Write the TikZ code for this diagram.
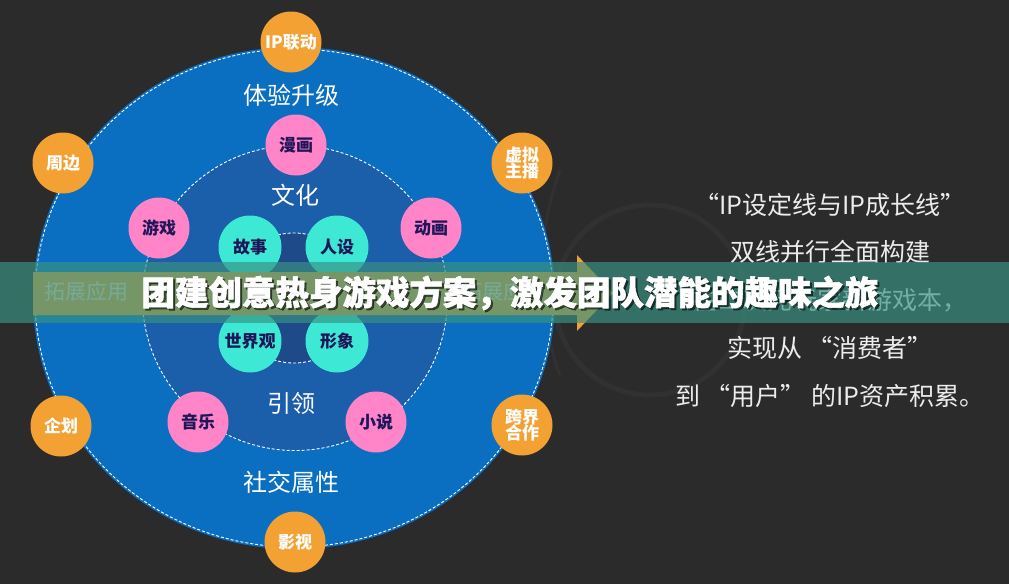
\documentclass[tikz,border=0pt]{standalone}
\usepackage{fontspec}
\newfontfamily\cjk{Noto Sans CJK SC}
\newfontfamily\cjkt[BoldFeatures={FakeBold=1.6}]{Noto Sans CJK SC}
\usetikzlibrary{shapes.geometric}
\definecolor{bg}{RGB}{43,43,43}
\definecolor{outerblue}{RGB}{10,110,193}
\definecolor{midblue}{RGB}{27,94,170}
\definecolor{innerblue}{RGB}{30,74,138}
\definecolor{orangeC}{RGB}{244,161,52}
\definecolor{pinkC}{RGB}{255,133,200}
\definecolor{tealC}{RGB}{61,232,213}
\definecolor{navytext}{RGB}{30,22,88}
\definecolor{bannerC}{RGB}{57,146,131}
\definecolor{rtext}{RGB}{236,236,236}
\definecolor{faint}{RGB}{49,49,49}
\definecolor{sidetext}{RGB}{240,222,196}
\tikzset{
  ring/.style={draw=white, line width=0.9pt, dash pattern=on 3pt off 2pt},
  bubble/.style={circle, minimum size=61pt, inner sep=0pt, align=center,
    font=\cjk\bfseries\fontsize{17}{19}\selectfont},
  onode/.style={bubble, fill=orangeC, text=white},
  pnode/.style={bubble, fill=pinkC, text=navytext},
  tnode/.style={bubble, fill=tealC, text=navytext, minimum size=63pt},
  lbl/.style={text=white, font=\cjk\fontsize{24}{26}\selectfont, inner sep=0pt},
  side/.style={text=sidetext, font=\cjk\fontsize{21}{23}\selectfont, inner sep=0pt},
  titlefont/.style={font=\cjkt\bfseries\fontsize{33.5}{36}\selectfont, inner sep=0pt},
}
\begin{document}
\begin{tikzpicture}[x=1pt,y=-1pt]
\useasboundingbox (0,0) rectangle (1009,584);
\fill[bg] (0,0) rectangle (1009,584);
% faint decorations on the right
\draw[faint, line width=5pt] (650,300) circle [radius=95];
\draw[faint, line width=3pt] (560,170) arc[start angle=200, end angle=160, radius=300];
% rings
\fill[outerblue] (294,298) ellipse [x radius=261, y radius=251];
\draw[ring] (294,298) ellipse [x radius=259, y radius=249];
\fill[midblue] (295,298) circle [radius=152.5];
\draw[ring] (295,298) circle [radius=152.5];
\fill[innerblue] (294,298) circle [radius=65];
\draw[ring] (294,298) circle [radius=65];
% ring labels
\node[lbl] (l1) at (291,95) {体验升级};
\node[lbl] (l2) at (295,195) {文化};
\node[lbl] (l3) at (291,403) {引领};
\node[lbl] (l4) at (291,482) {社交属性};
% orange nodes
\node[onode] (ip) at (291,42) {IP联动};
\node[onode] (zb) at (63,163) {周边};
\node[onode] (xn) at (522,163) {虚拟\\[-3pt]主播};
\node[onode] (qh) at (61,426) {企划};
\node[onode] (kj) at (522,425) {跨界\\[-3pt]合作};
\node[onode] (ys) at (295,542) {影视};
% pink nodes
\node[pnode] (mh) at (296,145) {漫画};
\node[pnode] (yx) at (159,228) {游戏};
\node[pnode] (dh) at (431,228) {动画};
\node[pnode] (yy) at (198,422) {音乐};
\node[pnode] (xs) at (376,422) {小说};
% teal nodes
\node[tnode] (gs) at (250,247) {故事};
\node[tnode] (rs) at (337,247) {人设};
\node[tnode] (sj) at (250,341) {世界观};
\node[tnode] (xx) at (337,341) {形象};
% arrow
\fill[orangeC] (33,272) -- (577,272) -- (577,255) -- (613,293) -- (577,331) -- (577,315) -- (33,315) -- cycle;
\node[side] (t1) at (86,292) {拓展应用};
\node[side] (t2) at (503,292) {拓展应用};
% right text
\node[text=rtext, font=\cjk\fontsize{25}{47.75}\selectfont, align=center, inner sep=0pt] (rt) at (830,300)
  {“IP设定线与IP成长线”\\双线并行全面构建\\在二次元玩家新游戏本，\\实现从 “消费者”\\到 “用户” 的IP资产积累。};
% banner
\fill[bannerC, opacity=0.67] (0,262) rectangle (1009,323);
\node[text=black, opacity=0.55, titlefont] (tsh) at (512,295)
  {团建创意热身游戏方案，激发团队潜能的趣味之旅};
\node[text=white, titlefont] (title) at (510,293)
  {团建创意热身游戏方案，激发团队潜能的趣味之旅};
\end{tikzpicture}
\end{document}
